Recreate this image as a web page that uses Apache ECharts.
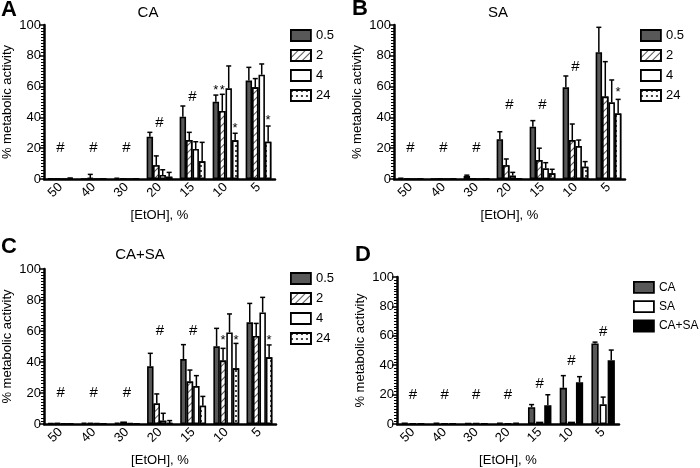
<!DOCTYPE html>
<html><head><meta charset="utf-8">
<script src="https://cdn.jsdelivr.net/npm/echarts@6/dist/echarts.min.js"></script>
<style>html,body{margin:0;padding:0;background:#fff}#c{width:700px;height:468px}</style>
</head><body><div id="c"></div>
<script>
const categories = ['50','40','30','20','15','10','5'];
const timeNames = ['0.5','2','4','24'];
const organismNames = ['CA','SA','CA+SA'];

// Panel A (CA): mean per time point, and upper error
const caMean = [
  [0.3, 0, 1, 27.5, 40.5, 50.2, 63.9],
  [0, 0.5, 0, 9, 25.3, 44.2, 59.5],
  [0, 0, 0, 2.6, 19.5, 58.9, 67.7],
  [0.8, 0, 0.3, 1.5, 11.5, 25.1, 24.2]
];
const caErr = [
  [0, 0, 0, 2.8, 6.9, 4.3, 8.6],
  [0, 2.5, 0, 6, 5, 10.8, 5.7],
  [0, 0, 0, 3.4, 4.7, 14.5, 7],
  [0, 0, 0, 2.8, 12.3, 4.6, 10.2]
];
// Panel B (SA)
const saMean = [
  [0.8, 0, 2, 25.8, 34, 59.5, 82.3],
  [0, 0.3, 0, 9, 12.3, 25.3, 53.5],
  [0, 0, 0, 2.2, 6.9, 21.4, 49.8],
  [0, 0, 0, 0.3, 3.7, 8, 42.6]
];
const saErr = [
  [0, 0, 0.5, 4.9, 3.9, 7.4, 16.2],
  [0, 0, 0, 4, 7.7, 10.4, 22.7],
  [0, 0, 0, 2.1, 3.7, 3.9, 14.5],
  [0, 0, 0, 0, 2.6, 3.3, 9.1]
];
// Panel C (CA+SA)
const casaMean = [
  [0.5, 1, 1, 37.2, 41.9, 50.1, 65.6],
  [0.5, 0.5, 1.5, 13.3, 27.5, 40.9, 56.8],
  [0.3, 0.5, 0.5, 2.2, 24.5, 59.1, 72],
  [0, 0.3, 0.3, 0.5, 11.8, 35.9, 43]
];
const casaErr = [
  [0, 0, 0, 8.4, 9.3, 11.6, 12.2],
  [0, 0, 0, 6.1, 7.3, 7.9, 8.1],
  [0, 0, 0, 4.7, 6.7, 11.9, 9.7],
  [0, 0, 0, 1.7, 6, 16.1, 8]
];
// Panel D (24 h comparison)
const dMean = [
  [0.8, 1, 0.5, 1, 11.4, 24.6, 54.8],
  [0.4, 0.3, 0.5, 0.3, 1.6, 1.6, 13.4],
  [0.3, 0.3, 0.3, 1, 12.8, 28.4, 43.4]
];
const dErr = [
  [0, 0, 0, 0, 1.8, 8.3, 0.9],
  [0, 0, 0, 0, 0, 0, 4.9],
  [0, 0, 0, 0, 7.1, 3.8, 6.9]
];
// significance marks: [categoryIndex, value] for '#', [categoryIndex, barIndex, value] for '*'
const hashA = [[0,20],[1,20],[2,20],[3,36.6],[4,53.5]];
const starA = [[5,0,59.5],[5,1,59.5],[5,3,35],[6,3,40]];
const hashB = [[0,20],[1,20],[2,20],[3,48],[4,48],[5,73]];
const starB = [[6,3,58]];
const hashC = [[0,20],[1,20],[2,20],[3,60],[4,60]];
const starC = [[5,1,56],[5,3,56],[6,3,56]];
const hashD = [[0,19.5],[1,19.5],[2,19.5],[3,19.5],[4,27.3],[5,43],[6,62.4]];
const starD = [];

const FONT = 'Liberation Sans, Arial, sans-serif';
const hatchDecal = {symbol:'rect', symbolSize:1, dashArrayX:[1,0], dashArrayY:[0.8,3.2], rotation:-Math.PI/4, color:'#555', backgroundColor:'#fff'};
const dotDecal = {symbol:'rect', symbolSize:1, dashArrayX:[[1.5,2.5]], dashArrayY:[1.5,2.5], color:'#444', backgroundColor:'#fff'};
const timeStyles = [
  {color:'#585858', borderColor:'#000', borderWidth:1.6},
  {color:'#fff', borderColor:'#000', borderWidth:1.6, decal:hatchDecal},
  {color:'#fff', borderColor:'#000', borderWidth:1.6},
  {color:'#fff', borderColor:'#000', borderWidth:1.6, decal:dotDecal}
];
const orgStyles = [
  {color:'#585858', borderColor:'#000', borderWidth:1.6},
  {color:'#fff', borderColor:'#000', borderWidth:1.6},
  {color:'#000', borderColor:'#000', borderWidth:1.6}
];

const grids = [
  {left:44, top:25, width:231, height:154},
  {left:394, top:25, width:231, height:154},
  {left:42, top:269, width:234, height:155},
  {left:397, top:277, width:222, height:149}
];
const panels = [
  {means:caMean, errs:caErr, names:timeNames, styles:timeStyles, bg:0, cg:0.22, hash:hashA, star:starA},
  {means:saMean, errs:saErr, names:timeNames, styles:timeStyles, bg:0, cg:0.22, hash:hashB, star:starB},
  {means:casaMean, errs:casaErr, names:timeNames, styles:timeStyles, bg:0, cg:0.22, hash:hashC, star:starC},
  {means:dMean, errs:dErr, names:organismNames, styles:orgStyles, bg:0.12, cg:0.26, hash:hashD, star:starD}
];

const xAxes = [], yAxes = [], series = [];
panels.forEach((p, gi) => {
  xAxes.push({
    type:'category', gridIndex:gi, data:categories,
    axisLine:{lineStyle:{color:'#000', width:2.5}},
    axisTick:{alignWithLabel:true, length:5, lineStyle:{color:'#000', width:2}},
    axisLabel:{rotate:45, fontSize:13, color:'#000', fontFamily:FONT, margin:6},
    name:'[EtOH], %', nameLocation:'middle', nameGap:30,
    nameTextStyle:{fontSize:13, color:'#000', fontFamily:FONT}
  });
  yAxes.push({
    type:'value', gridIndex:gi, min:0, max:100, interval:20,
    axisLine:{show:true, lineStyle:{color:'#000', width:2.5}},
    axisTick:{show:true, length:5, lineStyle:{color:'#000', width:1.5}},
    minorTick:{show:true, splitNumber:10, length:3, lineStyle:{color:'#000', width:1}},
    splitLine:{show:false},
    axisLabel:{fontSize:13, color:'#000', fontFamily:FONT, margin:3},
    name:'% metabolic activity', nameLocation:'middle', nameGap:30,
    nameTextStyle:{fontSize:13, color:'#000', fontFamily:FONT}
  });
  const n = p.means.length;
  p.means.forEach((arr, si) => {
    series.push({
      type:'bar', name:p.names[si], xAxisIndex:gi, yAxisIndex:gi,
      data:arr, barGap:(p.bg*100)+'%', barCategoryGap:(p.cg*100)+'%',
      itemStyle:p.styles[si], emphasis:{disabled:true}, animation:false
    });
  });
  const errData = [];
  p.errs.forEach((arr, si) => arr.forEach((e, ci) => errData.push([ci, p.means[si][ci], e, si])));
  const barX = (api, c, s) => {
    const band = api.size([1,0])[0];
    const bw = band*(1-p.cg)/(n+(n-1)*p.bg);
    const center = api.coord([c,0])[0];
    const total = n*bw + (n-1)*bw*p.bg;
    return center - total/2 + s*bw*(1+p.bg) + bw/2;
  };
  series.push({
    type:'custom', xAxisIndex:gi, yAxisIndex:gi, data:errData, z:5, silent:true, animation:false,
    renderItem:(params, api) => {
      const c = api.value(0), m = api.value(1), e = api.value(2), s = api.value(3);
      if (!(e > 0)) return;
      const x = barX(api, c, s);
      const y1 = api.coord([c, m])[1], y2 = api.coord([c, m+e])[1];
      return {type:'group', children:[
        {type:'line', shape:{x1:x, y1:y1, x2:x, y2:y2}, style:{stroke:'#000', lineWidth:1.5}},
        {type:'line', shape:{x1:x-2.5, y1:y2, x2:x+2.5, y2:y2}, style:{stroke:'#000', lineWidth:1.5}}
      ]};
    }
  });
  const markData = p.hash.map(h => [h[0], h[1], -1]).concat(p.star.map(s => [s[0], s[2], s[1]]));
  series.push({
    type:'custom', xAxisIndex:gi, yAxisIndex:gi, data:markData, z:6, silent:true, animation:false,
    renderItem:(params, api) => {
      const c = api.value(0), v = api.value(1), s = api.value(2);
      const pt = api.coord([c, v]);
      const isHash = s < 0;
      const x = isHash ? pt[0] : barX(api, c, s);
      return {type:'text', x:x, y:isHash ? pt[1] : pt[1]+3,
        style:{text:isHash ? '#' : '*', fontSize:isHash ? 15 : 13, fontFamily:FONT, fill:'#000',
          align:'center', verticalAlign:'middle'}};
    }
  });
});

const legendBase = {orient:'vertical', padding:0, icon:'rect', itemWidth:20, itemHeight:11, itemGap:7, selectedMode:false,
  textStyle:{fontSize:13, color:'#000', fontFamily:FONT}, itemStyle:{borderColor:'#000', borderWidth:1.8}};
const legends = [
  Object.assign({}, legendBase, {left:290, top:29, data:timeNames}),
  Object.assign({}, legendBase, {left:640, top:29, data:timeNames}),
  Object.assign({}, legendBase, {left:290, top:272, data:timeNames}),
  Object.assign({}, legendBase, {left:633, top:281, itemGap:6.5, data:organismNames,
    textStyle:{fontSize:12, color:'#000', fontFamily:FONT}})
];

const txt = (x, y, t, size, bold) => ({type:'text', x:x, y:y,
  style:{text:t, fontSize:size, fontWeight:bold ? 'bold' : 'normal', fontFamily:FONT, fill:'#000', align:bold ? 'left' : 'center', verticalAlign:'middle'}});

const chart = echarts.init(document.getElementById('c'), null, {renderer:'canvas'});
chart.setOption({
  animation:false,
  grid:grids,
  xAxis:xAxes,
  yAxis:yAxes,
  legend:legends,
  series:series,
  graphic:[
    txt(1, 10, 'A', 22, true), txt(352, 9, 'B', 22, true),
    txt(1, 247, 'C', 22, true), txt(355, 255, 'D', 22, true),
    txt(148, 13, 'CA', 15, false), txt(498, 13, 'SA', 15, false),
    txt(140, 255, 'CA+SA', 15, false)
  ]
});
</script></body></html>
